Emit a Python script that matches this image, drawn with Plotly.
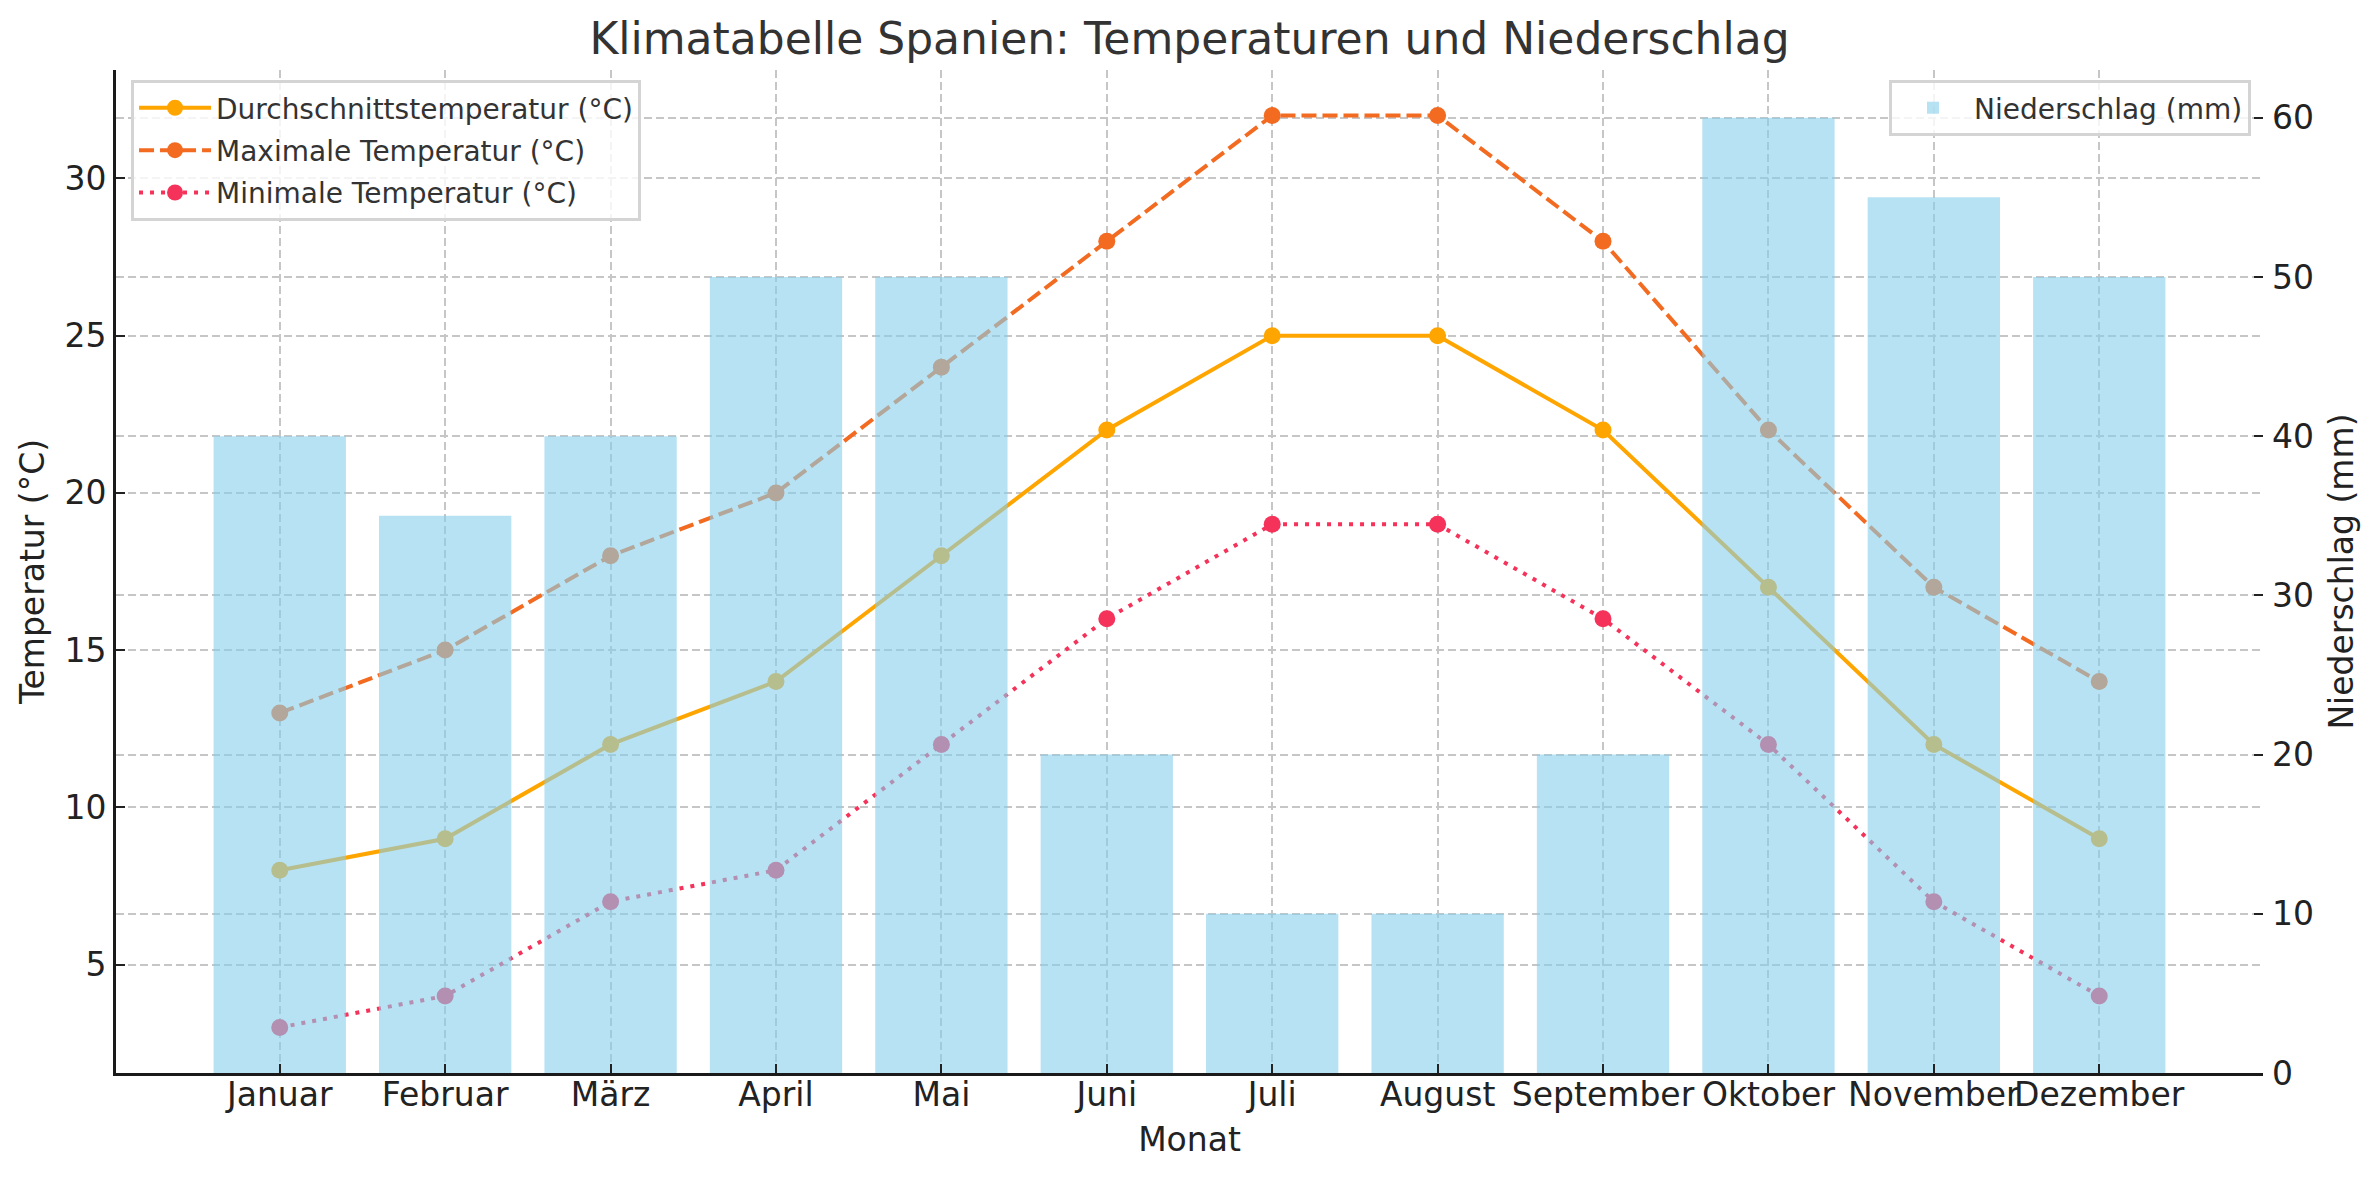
import plotly.graph_objects as go

months = ["Januar", "Februar", "März", "April", "Mai", "Juni", "Juli",
          "August", "September", "Oktober", "November", "Dezember"]
avg_temp = [8, 9, 12, 14, 18, 22, 25, 25, 22, 17, 12, 9]
max_temp = [13, 15, 18, 20, 24, 28, 32, 32, 28, 22, 17, 14]
min_temp = [3, 4, 7, 8, 12, 16, 19, 19, 16, 12, 7, 4]
precip = [40, 35, 40, 50, 50, 20, 10, 10, 20, 60, 55, 50]

FONT = "DejaVu Sans"
GRID = "#c6c6c6"
GRID_DASH = "8px,4px"

fig = go.Figure()

fig.add_trace(go.Scatter(
    x=months, y=avg_temp, name="Durchschnittstemperatur (°C)",
    mode="lines+markers", line=dict(color="#FFA500", width=4),
    marker=dict(size=17, color="#FFA500"), legend="legend", legendgroup="a",
    xaxis="x", yaxis="y"))
fig.add_trace(go.Scatter(
    x=months, y=max_temp, name="Maximale Temperatur (°C)",
    mode="lines+markers", line=dict(color="#F26B21", width=4, dash="15px,6px"),
    marker=dict(size=17, color="#F26B21"), legend="legend", legendgroup="b",
    xaxis="x", yaxis="y"))
fig.add_trace(go.Scatter(
    x=months, y=min_temp, name="Minimale Temperatur (°C)",
    mode="lines+markers", line=dict(color="#F5325A", width=4, dash="4px,7px"),
    marker=dict(size=17, color="#F5325A"), legend="legend", legendgroup="c",
    xaxis="x", yaxis="y"))
fig.add_trace(go.Bar(
    x=months, y=precip, name="Niederschlag (mm)", width=0.8,
    marker=dict(color="rgba(135,206,235,0.6)", line=dict(width=0)),
    legend="legend2", xaxis="x", yaxis="y2"))

axis_common = dict(
    ticks="inside", ticklen=9, tickwidth=2, tickcolor="#222222",
    tickfont=dict(family=FONT, size=33, color="#222222"),
    showgrid=True, gridcolor=GRID, gridwidth=1.8, griddash=GRID_DASH,
    zeroline=False, automargin=False,
)

fig.update_layout(
    width=2379, height=1180,
    margin=dict(l=108, r=124, t=62, b=115, autoexpand=False),
    paper_bgcolor="white", plot_bgcolor="white",
    font=dict(family=FONT, color="#333333"),
    title=dict(text="Klimatabelle Spanien: Temperaturen und Niederschlag",
               font=dict(family=FONT, size=44, color="#333333"),
               x=0.5, xanchor="center", xref="paper",
               y=1 - 31 / 1180, yanchor="middle", yref="container"),
    xaxis=dict(
        type="category", categoryorder="array", categoryarray=months,
        range=[-0.99, 11.99], showline=True, linecolor="#1a1a1a", linewidth=3,
        mirror=False, tickangle=0, ticklabelstandoff=-10,
        title=dict(text="Monat", font=dict(family=FONT, size=33, color="#222222"),
                   standoff=16),
        **axis_common),
    yaxis=dict(
        range=[1.55, 33.45], tick0=0, dtick=5, showline=True,
        linecolor="#1a1a1a", linewidth=3, mirror=False,
        title=dict(text="Temperatur (°C)", font=dict(family=FONT, size=33, color="#222222"),
                   standoff=10),
        **axis_common),
    yaxis2=dict(
        overlaying="y", side="right", range=[0, 63], tick0=0, dtick=10,
        showline=False, ticklabelstandoff=8,
        title=dict(text="Niederschlag (mm)", font=dict(family=FONT, size=33, color="#222222"),
                   standoff=16),
        **axis_common),
    legend=dict(
        x=0.007, y=0.99, xanchor="left", yanchor="top",
        bgcolor="rgba(255,255,255,0.8)", bordercolor="#d4d4d4", borderwidth=3,
        font=dict(family=FONT, size=28, color="#333333"),
        tracegroupgap=3, itemwidth=72),
    legend2=dict(
        x=0.9944, y=0.99, xanchor="right", yanchor="top",
        bgcolor="rgba(255,255,255,0.8)", bordercolor="#d4d4d4", borderwidth=3,
        font=dict(family=FONT, size=28, color="#333333"), itemwidth=72),
    bargap=0.2,
)

fig.write_html("out.html")
